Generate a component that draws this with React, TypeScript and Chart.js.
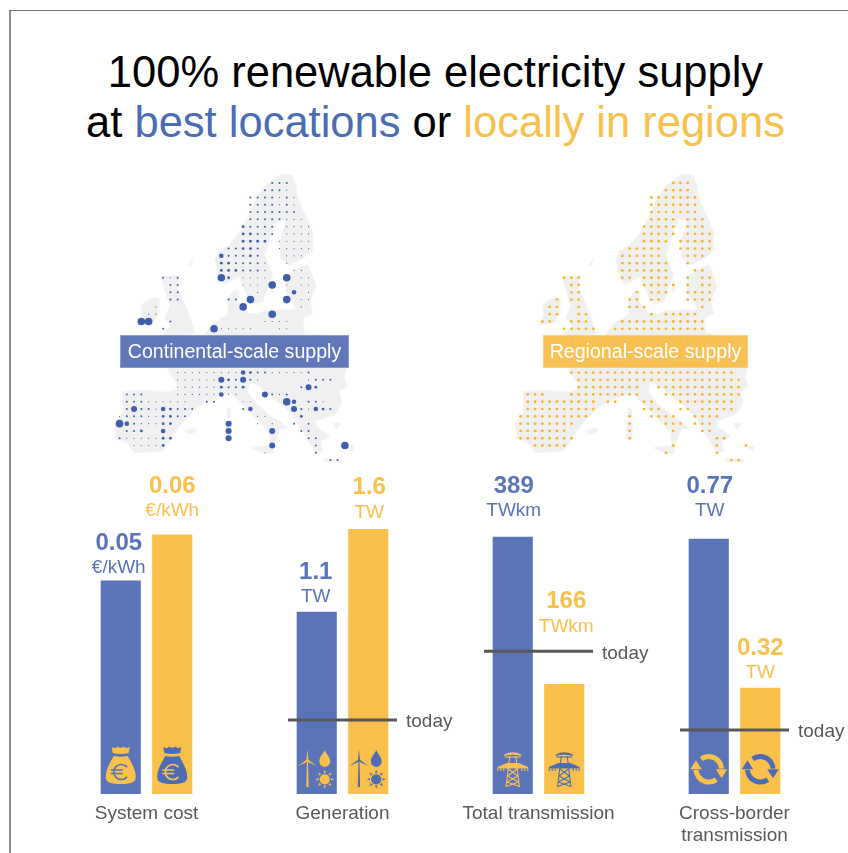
import React, { useEffect, useRef } from "react";
import { Chart, registerables } from "chart.js";

Chart.register(...registerables);

// ---------- data ----------
const categories = ["Continental-scale", "Regional-scale"];
const costValues = [0.05, 0.0608];
const generationValues = [1.1, 1.6];
const transmissionValues = [389, 166];
const crossBorderValues = [0.77, 0.32];
const costLabels = ["0.05", "0.06"];
const generationLabels = ["1.1", "1.6"];
const transmissionLabels = ["389", "166"];
const crossBorderLabels = ["0.77", "0.32"];
const costUnit = "€/kWh";
const generationUnit = "TW";
const transmissionUnit = "TWkm";
const crossBorderUnit = "TW";
const generationToday = 0.447;
const transmissionToday = 216;
const crossBorderToday = 0.193;

// Continental dots: row, then [column, size class]
type DotRow = [number, ...[number, number][]];
const continentalRows: DotRow[] = [
  [0, [7, 1], [8, 1], [9, 1]],
  [1, [6, 1], [7, 1], [8, 1], [9, 0]],
  [2, [4, 1], [5, 1], [6, 1], [7, 1], [8, 0], [9, 1], [10, 0]],
  [3, [4, 1], [5, 1], [6, 1], [7, 1], [8, 0], [9, 1], [10, 0]],
  [4, [4, 1], [5, 1], [6, 1], [7, 1], [8, 1], [9, 1], [10, 1]],
  [5, [4, 1], [5, 1], [6, 1], [7, 1], [8, 1], [9, 0], [10, 0], [11, 0]],
  [6, [3, 2], [4, 1], [5, 1], [6, 1], [7, 1], [9, 0], [10, 0], [11, 0], [12, 0]],
  [7, [3, 2], [4, 2], [5, 1], [6, 1], [7, 1], [9, 0], [10, 0], [11, 0], [12, 0]],
  [8, [3, 2], [4, 2], [5, 2], [6, 2], [8, 0], [9, 0], [10, 0], [11, 0], [12, 0]],
  [9, [1, 1], [2, 1], [3, 2], [4, 2], [5, 1], [8, 0], [9, 0], [10, 0], [11, 0], [12, 0]],
  [10, [0, 3], [1, 1], [2, 1], [3, 1], [4, 2], [5, 1], [9, 0], [10, 0], [11, 0]],
  [11, [0, 2], [1, 2], [2, 1], [3, 1], [4, 1], [5, 1], [6, 0], [9, 0]],
  [12, [0, 2], [1, 2], [2, 2], [3, 1], [4, 1], [5, 1], [6, 0], [10, 0], [11, 0]],
  [13, [-8, 1], [-7, 0], [-6, 1], [0, 5], [1, 2], [3, 0], [4, 0], [5, 0], [6, 0], [9, 5], [11, 0], [12, 0]],
  [14, [-7, 1], [-6, 1], [3, 0], [4, 0], [5, 0], [7, 5], [9, 0], [11, 0], [12, 0]],
  [15, [-7, 1], [-6, 1], [5, 0], [10, 3], [12, 0]],
  [16, [-7, 1], [-6, 1], [1, 1], [2, 1], [4, 5], [9, 5], [11, 0], [12, 0]],
  [17, [3, 5], [11, 0], [-9, 0]],
  [18, [-10, 0], [-9, 0], [7, 5]],
  [19, [-11, 5], [-10, 5], [-7, 1], [6, 0], [7, 0], [8, 0], [9, 0]],
  [20, [-8, 1], [-1, 5], [0, 0], [1, 0], [2, 0], [3, 0], [4, 0], [8, 0], [9, 0]],
  [24, [-8, 3], [-7, 2], [14, 3]],
  [25, [15, 3]],
  [26, [-6, 0], [-5, 0], [-4, 0], [-3, 0], [-2, 0], [-1, 0], [0, 0], [1, 0], [2, 0], [3, 3], [4, 2], [5, 1], [6, 1], [7, 0], [8, 0], [9, 0], [10, 0], [11, 0], [12, 1]],
  [27, [-6, 0], [-5, 0], [-4, 0], [-3, 0], [-2, 0], [-1, 0], [0, 4], [1, 2], [2, 1], [3, 4], [4, 1], [5, 0], [12, 0], [13, 1], [14, 1], [15, 1]],
  [28, [-6, 0], [-5, 0], [-4, 0], [-3, 0], [-2, 0], [-1, 0], [0, 2], [1, 1], [2, 1], [3, 2], [11, 1], [12, 4], [13, 2]],
  [29, [-13, 1], [-12, 1], [-11, 1], [-6, 0], [-5, 0], [-4, 0], [-3, 0], [-2, 0], [-1, 0], [0, 3], [1, 0], [2, 0], [6, 4], [7, 1], [8, 0], [9, 1]],
  [30, [-13, 1], [-12, 1], [-11, 1], [-10, 0], [-9, 0], [-8, 0], [-7, 0], [-6, 0], [-5, 0], [-2, 1], [-1, 1], [3, 0], [4, 0], [9, 5], [10, 3], [12, 1], [13, 1], [14, 0]],
  [31, [-13, 1], [-12, 4], [-11, 1], [-10, 1], [-9, 0], [-8, 3], [-7, 2], [-6, 1], [-5, 1], [-4, 1], [3, 1], [4, 3], [10, 4], [11, 1], [12, 0], [13, 3], [14, 2], [15, 1]],
  [32, [-14, 0], [-13, 1], [-12, 1], [-11, 1], [-10, 0], [-9, 0], [-8, 2], [-7, 2], [-6, 1], [-5, 1], [5, 0], [6, 0], [11, 2]],
  [33, [-14, 5], [-13, 3], [-12, 1], [-11, 0], [-10, 0], [-9, 0], [-8, 2], [-7, 2], [1, 4], [5, 0], [7, 0], [10, 1], [12, 1]],
  [34, [-13, 1], [-12, 1], [-11, 2], [-8, 3], [1, 4], [7, 4], [11, 1], [12, 1]],
  [35, [-14, 1], [-13, 0], [-12, 0], [-11, 0], [-10, 0], [-9, 0], [-8, 2], [-7, 2], [1, 4], [12, 1], [13, 1]],
  [36, [-12, 0], [-11, 0], [-10, 0], [-9, 0], [-8, 2], [7, 4], [13, 1], [17, 5]],
  [37, [6, 0], [13, 1]],
  [38, [15, 1], [16, 1]],
];

// Regional dots: row, then [first column, last column] runs
type RunRow = [number, ...[number, number][]];
const regionalRows: RunRow[] = [
  [0, [7, 9]],
  [1, [6, 9]],
  [2, [4, 10]],
  [3, [4, 10]],
  [4, [4, 10]],
  [5, [4, 7], [9, 11]],
  [6, [3, 7], [9, 11]],
  [7, [3, 7], [9, 12]],
  [8, [3, 6], [8, 12]],
  [9, [1, 5], [8, 12]],
  [10, [0, 5], [9, 11]],
  [11, [0, 6], [9, 9]],
  [12, [0, 6], [10, 11]],
  [13, [-8, -6], [0, 1], [3, 6], [9, 9], [11, 12]],
  [14, [-7, -6], [3, 7], [9, 9], [11, 12]],
  [15, [-7, -6], [2, 2], [4, 6], [9, 12]],
  [16, [-9, -9], [-7, -6], [1, 2], [4, 5], [9, 12]],
  [17, [-10, -9], [-6, -6], [1, 3], [11, 11]],
  [18, [-10, -9], [-6, -5], [4, 4], [6, 10]],
  [19, [-11, -10], [-7, -5], [0, 11]],
  [20, [-8, -4], [-1, 11]],
  [21, [-7, -4], [-2, 12]],
  [22, [-7, -4], [-3, 13]],
  [23, [-6, 14]],
  [24, [-7, 15]],
  [25, [-7, 15]],
  [26, [-7, 15]],
  [27, [-6, 16]],
  [28, [-6, 2], [5, 16]],
  [29, [-13, -11], [-7, 2], [6, 16]],
  [30, [-13, -4], [-2, -1], [3, 4], [8, 15]],
  [31, [-13, -4], [3, 5], [8, 9], [11, 15]],
  [32, [-14, -5], [1, 1], [4, 7], [10, 13]],
  [33, [-14, -7], [1, 1], [6, 8], [10, 12]],
  [34, [-14, -8], [1, 1], [7, 7], [11, 12]],
  [35, [-14, -7], [1, 1], [13, 14]],
  [36, [-12, -8], [7, 7], [13, 13], [17, 17]],
  [37, [6, 6], [13, 13]],
  [38, [15, 16]],
];

// Land outline in the same column / row units as the dots
const scandinavia = [[8.2,-1.2],[9.7,-1.1],[10.3,0.3],[10.4,1.6],[11.2,3.7],[11.9,5.1],[12.6,6.9],[12.6,9.2],[11.3,10.3],[9.4,11.3],[8.2,10.3],[8,8],[8.6,6.3],[8.9,5.1],[7.8,5],[7.3,6.2],[6.6,8],[6,9.9],[6.6,11.5],[7.1,12.6],[6.4,14.2],[5.7,16.3],[4.5,16.6],[3.9,16.3],[2.9,14],[2.5,12.8],[1.6,13.3],[0.4,14],[-0.5,12.4],[-0.9,10.5],[-0.3,9.2],[1.1,8.5],[2.5,6.7],[3.9,4.2],[4.8,2.1],[6.1,0.3]];
const britain = [[-8.3,12.8],[-5.8,12.7],[-6.1,14.2],[-5.3,16],[-4.6,17.6],[-3.9,19.7],[-3.6,20.6],[-5.8,21],[-8.3,21],[-6.9,19.7],[-7.8,18.5],[-7.1,16.9],[-7.6,15.3]];
const ireland = [[-11,16.7],[-9.7,15.8],[-8.5,15.8],[-8.6,17.9],[-9.4,19.2],[-11.5,19.5],[-10.8,18.1]];
const mainland = [[-2.1,20.6],[-1.2,19.3],[0,18.6],[0.9,17.9],[0.9,15.8],[1.8,14.7],[2.5,14.9],[2.2,16.3],[2.9,16.9],[3.6,17.9],[4.8,17.9],[6.1,17.5],[8.4,17.4],[10.3,17.3],[9.8,16.3],[8.9,15.1],[8.9,12.8],[10.3,11.9],[11.9,11.2],[12.6,12.8],[13,14.2],[12.2,16.3],[12.6,17.9],[11.3,18.5],[11.4,20.6],[15.3,21],[17.2,25.6],[16.9,26.8],[17.4,27.9],[16.2,28.6],[16.6,30.2],[15.8,31.6],[14.4,32.2],[13,32.6],[13.1,33.4],[14.9,34.7],[13.7,35.4],[14,36.8],[13,37.1],[12.6,36.3],[11.3,34.3],[10,32.2],[8.9,30.9],[7.1,29.5],[5.2,27.9],[3.9,27.4],[3.6,28.6],[4.8,30.2],[6.6,31.8],[8.2,32.7],[9.1,33.6],[8,33.8],[7.5,35.4],[6.8,35.9],[6.6,34.3],[5.2,32.7],[2.9,30.4],[1.3,28.8],[-0.3,29.3],[-2.1,30],[-3.7,31.1],[-5.8,33.4],[-6.9,35],[-8.1,36.8],[-12,37],[-12.9,35.7],[-14.5,35],[-14.7,32.9],[-13.6,31.6],[-13.6,28.6],[-10.8,28.4],[-7.4,28.7],[-5.8,28.1],[-6.5,27],[-7.4,25.6],[-6.5,24.9],[-3.5,21.7]];
const corsica = [[0.8,30.7],[1.3,31.1],[1.3,32.2],[0.8,32.2]];
const sardinia = [[0.6,32.7],[1.4,32.7],[1.4,35.2],[0.6,35.1]];
const sicily = [[4.2,36.3],[7.3,35.9],[7.1,37.1],[5.9,37.1]];
const balearics = [[-5.1,34],[-3.7,33.6],[-3.3,34],[-4.4,34.5]];
const crete = [[14.1,37.8],[16.8,38],[16.6,38.3],[14.3,38.2]];
const rhodes = [[17.2,36.3],[18.3,35.9],[18,36.8]];
const cyclades = [[15.3,32.9],[16.5,32.9],[15.8,33.8]];
const gotland = [[6.8,14.3],[7.3,14],[7.2,15],[6.8,15]];
const lofoten = [[-4.6,11.2],[-3.9,10.3],[-4.2,11.3]];
const landShapes = [scandinavia, britain, ireland, mainland, corsica, sardinia, sicily, balearics, crete, rhodes, cyclades, gotland, lofoten];

// ---------- styles ----------
const BLUE = "#5b74b7";
const ORANGE = "#f9c14c";
const TEXT_GREY = "#595959";
const FONT = '"Liberation Sans", Arial, sans-serif';
const SIZE_CLASS = [0.6, 1, 1.4, 2.3, 3, 3.8];

const flatContinental = continentalRows.flatMap(([r, ...cells]) =>
  (cells as [number, number][]).map(([c, s]) => ({ x: c, y: r, s }))
);
const flatRegional = regionalRows.flatMap(([r, ...runs]) =>
  (runs as [number, number][]).flatMap(([a, b]) => {
    const out: { x: number; y: number }[] = [];
    for (let c = a; c <= b; c++) out.push({ x: c, y: r });
    return out;
  })
);

const landPlugin = {
  id: "land",
  beforeDatasetsDraw(chart: any) {
    const { ctx, scales } = chart;
    ctx.save();
    ctx.fillStyle = "#f0f0f0";
    ctx.strokeStyle = "#f5f5f5";
    ctx.lineWidth = 1;
    ctx.lineJoin = "round";
    for (const shape of landShapes) {
      ctx.beginPath();
      shape.forEach(([c, r], i) => {
        const x = scales.x.getPixelForValue(c);
        const y = scales.y.getPixelForValue(r);
        if (i === 0) ctx.moveTo(x, y);
        else ctx.lineTo(x, y);
      });
      ctx.closePath();
      ctx.fill();
      ctx.stroke();
    }
    ctx.restore();
  },
};

function MapChart({ left, points, color, radius }: any) {
  const ref = useRef<HTMLCanvasElement>(null);
  useEffect(() => {
    const chart = new Chart(ref.current!, {
      type: "scatter",
      data: {
        datasets: [
          {
            data: points,
            backgroundColor: color,
            borderWidth: 0,
            pointBorderWidth: 0,
            pointRadius: radius,
            pointHoverRadius: radius,
          },
        ],
      },
      options: {
        animation: false,
        responsive: false,
        events: [],
        layout: { padding: 0, autoPadding: false },
        plugins: { legend: { display: false }, tooltip: { enabled: false } },
        scales: {
          x: { type: "linear", display: false, min: -16, max: 21 },
          y: { type: "linear", display: false, min: -3, max: 41, reverse: true },
        },
      },
      plugins: [landPlugin],
    } as any);
    return () => chart.destroy();
  }, []);
  return <canvas ref={ref} width={269} height={321} style={{ position: "absolute", left, top: 161 }} />;
}

function drawBag(ctx: any, cx: number, by: number, fg: string, bg: string) {
  ctx.fillStyle = fg;
  ctx.beginPath();
  ctx.moveTo(cx - 9, by - 47);
  ctx.quadraticCurveTo(cx - 4.5, by - 45, cx - 3, by - 47.5);
  ctx.quadraticCurveTo(cx, by - 45, cx + 3, by - 47.5);
  ctx.quadraticCurveTo(cx + 4.5, by - 45, cx + 9, by - 47);
  ctx.lineTo(cx + 8, by - 41);
  ctx.quadraticCurveTo(cx, by - 39, cx - 8, by - 41);
  ctx.closePath();
  ctx.fill();
  ctx.beginPath();
  ctx.moveTo(cx - 7, by - 38);
  ctx.quadraticCurveTo(cx, by - 36.5, cx + 7, by - 38);
  ctx.bezierCurveTo(cx + 11, by - 31, cx + 15, by - 24, cx + 15, by - 17);
  ctx.bezierCurveTo(cx + 15, by - 11, cx + 9, by - 10, cx, by - 10);
  ctx.bezierCurveTo(cx - 9, by - 10, cx - 15, by - 11, cx - 15, by - 17);
  ctx.bezierCurveTo(cx - 15, by - 24, cx - 11, by - 31, cx - 7, by - 38);
  ctx.closePath();
  ctx.fill();
  ctx.strokeStyle = bg;
  ctx.lineWidth = 1.7;
  ctx.beginPath();
  ctx.arc(cx + 0.5, by - 22, 7.5, 0.7, Math.PI * 2 - 0.7);
  ctx.stroke();
  ctx.beginPath();
  ctx.moveTo(cx - 10, by - 24);
  ctx.lineTo(cx + 2, by - 24);
  ctx.moveTo(cx - 10, by - 20.5);
  ctx.lineTo(cx + 2, by - 20.5);
  ctx.stroke();
}

function drawEnergy(ctx: any, cx: number, by: number, fg: string) {
  const mx = cx - 9.3;
  const hy = by - 33.5;
  ctx.fillStyle = fg;
  ctx.beginPath();
  ctx.moveTo(mx - 0.5, hy);
  ctx.lineTo(mx + 0.5, hy);
  ctx.lineTo(mx + 1.2, by - 7);
  ctx.lineTo(mx - 1.2, by - 7);
  ctx.closePath();
  ctx.fill();
  const blades: number[][] = [[0, -11], [-9.5, 5.5], [9.5, 5.5]];
  blades.forEach(([dx, dy]) => {
    const nx = -dy * 0.1;
    const ny = dx * 0.1;
    ctx.beginPath();
    ctx.moveTo(mx + nx, hy + ny);
    ctx.lineTo(mx + dx, hy + dy);
    ctx.lineTo(mx - nx, hy - ny);
    ctx.closePath();
    ctx.fill();
  });
  const dx = cx + 8;
  ctx.beginPath();
  ctx.moveTo(dx, by - 44);
  ctx.bezierCurveTo(dx + 1.5, by - 40, dx + 5.4, by - 37, dx + 5.4, by - 32.5);
  ctx.arc(dx, by - 32.5, 5.4, 0, Math.PI);
  ctx.bezierCurveTo(dx - 5.4, by - 37, dx - 1.5, by - 40, dx, by - 44);
  ctx.fill();
  const sy = by - 14.7;
  ctx.beginPath();
  ctx.arc(dx, sy, 5.1, 0, Math.PI * 2);
  ctx.fill();
  for (let i = 0; i < 8; i++) {
    const a = (i * Math.PI) / 4;
    const ux = Math.cos(a);
    const uy = Math.sin(a);
    ctx.beginPath();
    ctx.moveTo(dx + 9.5 * ux, sy + 9.5 * uy);
    ctx.lineTo(dx + 6.3 * ux - 1.3 * uy, sy + 6.3 * uy + 1.3 * ux);
    ctx.lineTo(dx + 6.3 * ux + 1.3 * uy, sy + 6.3 * uy - 1.3 * ux);
    ctx.closePath();
    ctx.fill();
  }
}

function drawPylon(ctx: any, cx: number, by: number, fg: string) {
  ctx.strokeStyle = fg;
  ctx.fillStyle = fg;
  ctx.lineWidth = 1.1;
  const line = (a: number, b: number, c: number, d: number) => {
    ctx.beginPath();
    ctx.moveTo(cx + a, by - b);
    ctx.lineTo(cx + c, by - d);
    ctx.stroke();
  };
  ctx.beginPath();
  ctx.moveTo(cx - 8.5, by - 38);
  ctx.lineTo(cx - 8.5, by - 39.5);
  ctx.quadraticCurveTo(cx, by - 44, cx + 8.5, by - 39.5);
  ctx.lineTo(cx + 8.5, by - 38);
  ctx.quadraticCurveTo(cx, by - 40.5, cx - 8.5, by - 38);
  ctx.closePath();
  ctx.fill();
  line(-8, 37, 8, 37);
  ctx.beginPath();
  ctx.moveTo(cx - 6, by - 31);
  ctx.lineTo(cx + 6, by - 31);
  ctx.lineTo(cx + 15.3, by - 27);
  ctx.lineTo(cx + 15.3, by - 25.5);
  ctx.lineTo(cx - 15.3, by - 25.5);
  ctx.lineTo(cx - 15.3, by - 27);
  ctx.closePath();
  ctx.fill();
  [-15, -12, -9, 9, 12, 15].forEach((d) => line(d, 25.5, d, 23));
  line(-3, 38, -6.7, 7);
  line(3, 38, 6.7, 7);
  line(-4.4, 25, 5.2, 18);
  line(4.4, 25, -5.2, 18);
  line(-5.2, 18, 5.9, 12);
  line(5.2, 18, -5.9, 12);
  line(-5.9, 12, 6.6, 7.5);
  line(5.9, 12, -6.6, 7.5);
}

function drawCycle(ctx: any, cx: number, by: number, fg: string) {
  const cy = by - 24.7;
  const R = 12.8;
  ctx.strokeStyle = fg;
  ctx.fillStyle = fg;
  ctx.lineWidth = 5;
  ctx.beginPath();
  ctx.arc(cx, cy, R, -2.2, -0.05);
  ctx.stroke();
  ctx.beginPath();
  ctx.arc(cx, cy, R, 0.94, 3.09);
  ctx.stroke();
  ctx.beginPath();
  ctx.moveTo(cx + 18.5, cy);
  ctx.lineTo(cx + 7, cy);
  ctx.lineTo(cx + 12.8, cy + 9);
  ctx.closePath();
  ctx.fill();
  ctx.beginPath();
  ctx.moveTo(cx - 18.5, cy);
  ctx.lineTo(cx - 7, cy);
  ctx.lineTo(cx - 12.8, cy - 9);
  ctx.closePath();
  ctx.fill();
}

function BarPanel({ left, caption, values, labels, unit, max, today, lifts, nudges, icon }: any) {
  const ref = useRef<HTMLCanvasElement>(null);
  useEffect(() => {
    const panelPlugin = {
      id: "panelMarks",
      afterDatasetsDraw(chart: any) {
        const { ctx, chartArea, scales } = chart;
        const bars = chart.getDatasetMeta(0).data;
        const by = chartArea.bottom;
        ctx.save();
        bars.forEach((bar: any, i: number) => {
          const fg = i === 0 ? ORANGE : "#4d6cb3";
          const bg = i === 0 ? BLUE : ORANGE;
          if (icon === "bag") drawBag(ctx, bar.x, by, fg, bg);
          if (icon === "energy") drawEnergy(ctx, bar.x, by, fg);
          if (icon === "pylon") drawPylon(ctx, bar.x, by, fg);
          if (icon === "cycle") drawCycle(ctx, bar.x, by, fg);
          const tc = i === 0 ? BLUE : ORANGE;
          ctx.fillStyle = tc;
          ctx.textAlign = "center";
          ctx.textBaseline = "middle";
          ctx.font = `bold 24px ${FONT}`;
          ctx.fillText(labels[i], bar.x + nudges[i], bar.y - lifts[i] + 1);
          ctx.font = `19px ${FONT}`;
          ctx.fillText(unit, bar.x + nudges[i], bar.y - lifts[i] + 26);
        });
        if (today != null) {
          const y = scales.y.getPixelForValue(today);
          ctx.strokeStyle = TEXT_GREY;
          ctx.lineWidth = 3;
          ctx.beginPath();
          ctx.moveTo(chartArea.left - 3, y);
          ctx.lineTo(chartArea.right + 3, y);
          ctx.stroke();
          ctx.fillStyle = TEXT_GREY;
          ctx.font = `19px ${FONT}`;
          ctx.textAlign = "left";
          ctx.textBaseline = "middle";
          ctx.fillText("today", chartArea.right + 12, y + 2);
        }
        ctx.fillStyle = TEXT_GREY;
        ctx.font = `19px ${FONT}`;
        ctx.textAlign = "center";
        ctx.textBaseline = "middle";
        const mid = (chartArea.left + chartArea.right) / 2;
        (Array.isArray(caption) ? caption : [caption]).forEach((line: string, k: number) => {
          ctx.fillText(line, mid, by + 20 + k * 22);
        });
        ctx.restore();
      },
    };
    const chart = new Chart(ref.current!, {
      type: "bar",
      data: {
        labels: categories,
        datasets: [
          {
            data: values,
            backgroundColor: [BLUE, ORANGE],
            borderWidth: 0,
            barThickness: 39.5,
          },
        ],
      },
      options: {
        animation: false,
        responsive: false,
        events: [],
        layout: { padding: { left: 60, right: 65, top: 50, bottom: 59 } },
        plugins: { legend: { display: false }, tooltip: { enabled: false } },
        scales: {
          x: { type: "category", display: false },
          y: { type: "linear", display: false, min: 0, max },
        },
      },
      plugins: [panelPlugin],
    } as any);
    return () => chart.destroy();
  }, []);
  return <canvas ref={ref} width={228} height={383} style={{ position: "absolute", left, top: 470 }} />;
}

function Tag({ left, width, bg, border, text }: any) {
  return (
    <div
      style={{
        position: "absolute",
        left,
        top: 335,
        width,
        height: 33,
        boxSizing: "border-box",
        background: bg,
        border: `1px solid ${border}`,
        color: "#fff",
        fontFamily: FONT,
        fontSize: 19.6,
        display: "flex",
        alignItems: "center",
        justifyContent: "center",
        whiteSpace: "nowrap",
      }}
    >
      {text}
    </div>
  );
}

export default function App() {
  return (
    <div style={{ position: "fixed", left: 0, top: 0, width: 848, height: 853, overflow: "hidden", background: "#fff" }}>
      <div
        style={{
          position: "absolute",
          left: 9,
          top: 10,
          width: 860,
          height: 860,
          borderLeft: "2px solid #8c8c8c",
          borderTop: "1px solid #777",
        }}
      />
      <div
        style={{
          position: "absolute",
          left: 0.5,
          top: 47,
          width: 870,
          textAlign: "center",
          fontFamily: FONT,
          fontSize: 43.5,
          lineHeight: "50px",
          color: "#000",
          whiteSpace: "nowrap",
        }}
      >
        <div>100% renewable electricity supply</div>
        <div>
          at <span style={{ color: "#4c6db4" }}>best locations</span> or{" "}
          <span style={{ color: ORANGE }}>locally in regions</span>
        </div>
      </div>
      <MapChart
        left={105}
        points={flatContinental}
        color="#3f5fae"
        radius={(c: any) => SIZE_CLASS[c.raw?.s ?? 1]}
      />
      <MapChart left={506} points={flatRegional} color="#fab42f" radius={1.4} />
      <Tag left={120} width={229} bg="rgba(91,116,183,0.97)" border="#8a9bcc" text="Continental-scale supply" />
      <Tag left={543} width={205} bg="rgba(248,189,72,0.92)" border="#fbd07a" text="Regional-scale supply" />
      <BarPanel left={35} caption="System cost" values={costValues} labels={costLabels} unit={costUnit} max={0.0643} today={null} lifts={[39, 50]} nudges={[-2, 0]} icon="bag" />
      <BarPanel left={231} caption="Generation" values={generationValues} labels={generationLabels} unit={generationUnit} max={1.656} today={generationToday} lifts={[41, 43]} nudges={[-1, 1]} icon="energy" />
      <BarPanel left={427} caption="Total transmission" values={transmissionValues} labels={transmissionLabels} unit={transmissionUnit} max={414.7} today={transmissionToday} lifts={[52, 84]} nudges={[1, 2]} icon="pylon" />
      <BarPanel left={623} caption={["Cross-border", "transmission"]} values={crossBorderValues} labels={crossBorderLabels} unit={crossBorderUnit} max={0.8274} today={crossBorderToday} lifts={[54, 41]} nudges={[1, 0]} icon="cycle" />
    </div>
  );
}
